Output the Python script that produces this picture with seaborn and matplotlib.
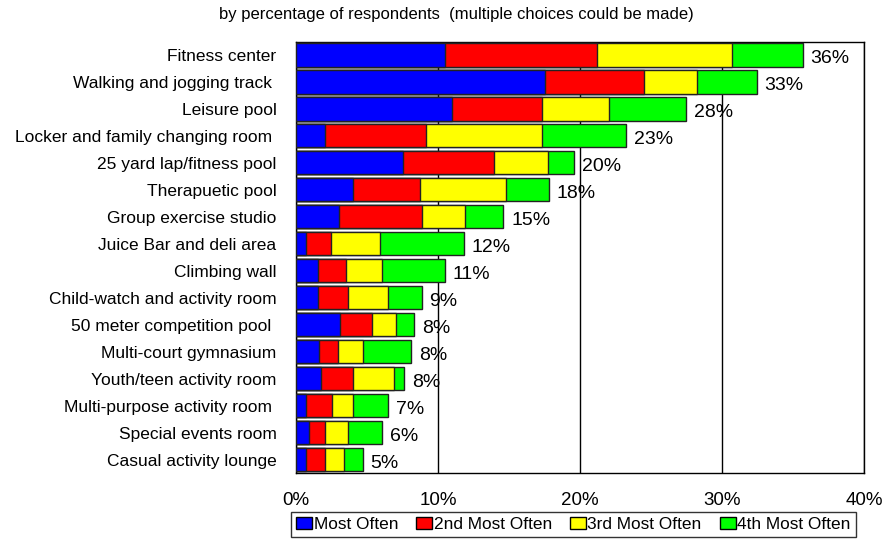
import numpy as np
import pandas as pd
import matplotlib
matplotlib.use("Agg")
import matplotlib.pyplot as plt
from matplotlib.patches import Patch
import seaborn as sns

categories = [
    "Fitness center",
    "Walking and jogging track ",
    "Leisure pool",
    "Locker and family changing room ",
    "25 yard lap/fitness pool",
    "Therapuetic pool",
    "Group exercise studio",
    "Juice Bar and deli area",
    "Climbing wall",
    "Child-watch and activity room",
    "50 meter competition pool ",
    "Multi-court gymnasium",
    "Youth/teen activity room",
    "Multi-purpose activity room ",
    "Special events room",
    "Casual activity lounge",
]
most_often = [10.5, 17.5, 11.0, 2.05, 7.5, 4.0, 3.0, 0.7, 1.55, 1.55, 3.1, 1.65, 1.75, 0.7, 0.95, 0.7]
second_most = [10.7, 7.0, 6.35, 7.1, 6.45, 4.7, 5.9, 1.75, 1.97, 2.1, 2.27, 1.34, 2.28, 1.83, 1.1, 1.35]
third_most = [9.5, 3.75, 4.7, 8.2, 3.83, 6.1, 3.0, 3.45, 2.57, 2.8, 1.7, 1.7, 2.86, 1.46, 1.64, 1.31]
fourth_most = [4.97, 4.2, 5.4, 5.9, 1.78, 3.0, 2.7, 5.9, 4.4, 2.4, 1.26, 3.4, 0.75, 2.52, 2.4, 1.35]
totals = [36, 33, 28, 23, 20, 18, 15, 12, 11, 9, 8, 8, 8, 7, 6, 5]
series_names = ["Most Often", "2nd Most Often", "3rd Most Often", "4th Most Often"]
series_colors = ["#0000FF", "#FF0000", "#FFFF00", "#00FF00"]
xticks = [0, 10, 20, 30, 40]
xtick_labels = ["0%", "10%", "20%", "30%", "40%"]
title = "by percentage of respondents  (multiple choices could be made)"

sns.set_style("white")
plt.rcParams["font.family"] = ["Liberation Sans", "DejaVu Sans"]
plt.rcParams["text.color"] = "black"
plt.rcParams["xtick.color"] = "black"
plt.rcParams["ytick.color"] = "black"

df = pd.DataFrame({"cat": categories, "s1": most_often, "s2": second_most,
                   "s3": third_most, "s4": fourth_most})
cum = np.cumsum(df[["s1", "s2", "s3", "s4"]].values, axis=1)

fig = plt.figure(figsize=(8.91, 5.40), dpi=100)
ax = fig.add_axes([296 / 891, 1 - 473 / 540, 568 / 891, 431.5 / 540])

for k in range(3, -1, -1):
    sns.barplot(x=cum[:, k], y=df["cat"], orient="h", color=series_colors[k],
                saturation=1, width=0.86, edgecolor="#222222", linewidth=1.0,
                errorbar=None, ax=ax, zorder=3)

for i, t in enumerate(totals):
    ax.text(cum[i, 3] + 0.55, i + 0.3, f"{t}%", va="baseline", ha="left",
            fontsize=14, color="black", zorder=4)

ax.set_xlim(0, 40)
ax.set_ylim(15.5, -0.5)
ax.set_xticks(xticks)
ax.set_xticklabels(xtick_labels, fontsize=13.5, color="black")
ax.tick_params(axis="x", length=0, pad=14, colors="black")
ax.tick_params(axis="y", length=0, pad=14, labelsize=12.5, colors="black")
ax.set_xlabel("")
ax.set_ylabel("")
ax.xaxis.grid(True, color="black", linewidth=1.0)
ax.yaxis.grid(False)
ax.set_axisbelow(True)
for s in ax.spines.values():
    s.set_visible(True)
    s.set_color("black")
    s.set_linewidth(1.0)

fig.text(456 / 891, 1 - 14 / 540, title, ha="center", va="center", fontsize=12,
         color="black")

handles = [Patch(facecolor=c, edgecolor="black", linewidth=1.0) for c in series_colors]
leg = fig.legend(handles, series_names, loc="center", bbox_to_anchor=(573.5 / 891, 15.5 / 540),
                 ncol=4, fontsize=12.4, frameon=True, fancybox=False, edgecolor="black",
                 handlelength=0.93, handleheight=0.7, handletextpad=0.08,
                 columnspacing=1.05, borderpad=0.3, borderaxespad=0)
leg.get_frame().set_linewidth(1.0)
for txt in leg.get_texts():
    txt.set_color("black")

fig.savefig("out.png", dpi=100, facecolor="white")
